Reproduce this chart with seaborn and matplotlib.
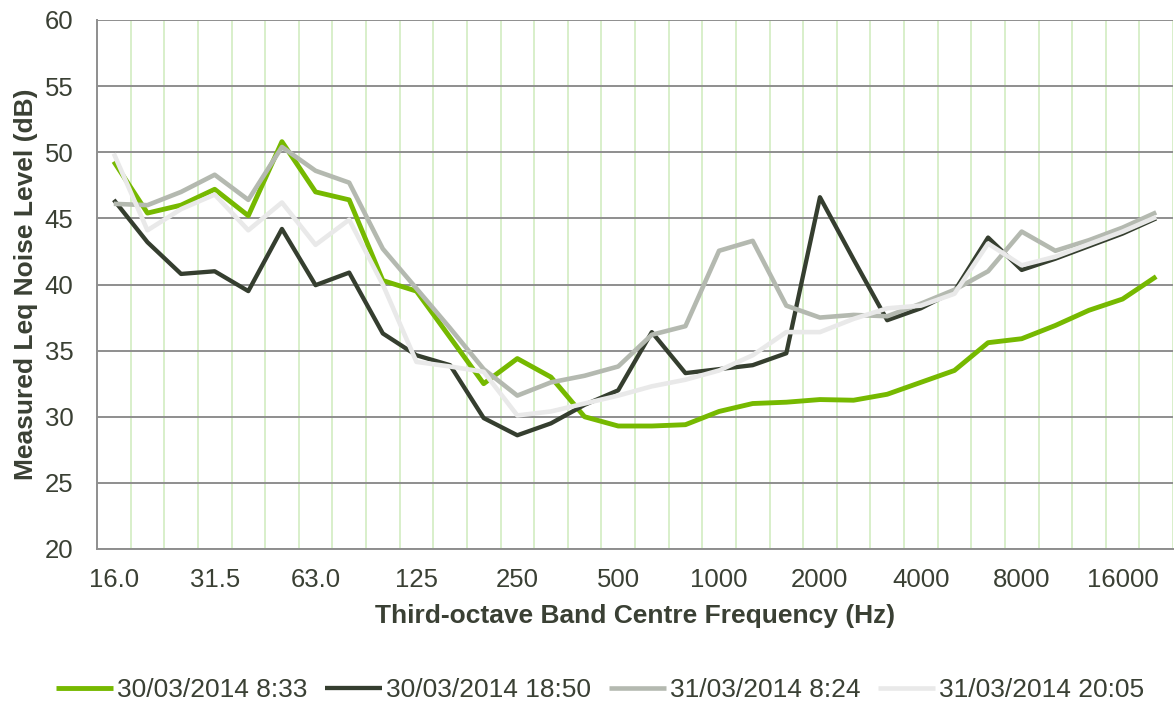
import matplotlib
matplotlib.use("Agg")
import matplotlib.pyplot as plt
import numpy as np
import pandas as pd
import seaborn as sns
from matplotlib.ticker import FixedLocator


# third-octave band centres (Hz), as labelled on the axis
BANDS = ["16.0", "20.0", "25.0", "31.5", "40.0", "50.0", "63.0", "80.0",
         "100", "125", "160", "200", "250", "315", "400", "500",
         "630", "800", "1000", "1250", "1600", "2000", "2500", "3150",
         "4000", "5000", "6300", "8000", "10000", "12500", "16000", "20000"]

SERIES = ["30/03/2014 8:33", "30/03/2014 18:50",
          "31/03/2014 8:24", "31/03/2014 20:05"]

# measured Leq per band (dB)
LEQ_30_0833 = [49.3, 45.4, 46.0, 47.2, 45.2, 50.8, 47.0, 46.4,
               40.3, 39.5, 36.0, 32.5, 34.4, 33.0, 30.0, 29.3,
               29.3, 29.4, 30.4, 31.0, 31.1, 31.3, 31.25, 31.7,
               32.6, 33.5, 35.6, 35.9, 36.9, 38.05, 38.9, 40.6]
LEQ_30_1850 = [46.4, 43.2, 40.8, 41.0, 39.5, 44.2, 39.95, 40.9,
               36.3, 34.65, 33.9, 29.9, 28.6, 29.5, 30.9, 32.0,
               36.4, 33.3, 33.6, 33.9, 34.8, 46.6, 41.9, 37.3,
               38.2, 39.5, 43.55, 41.1, 41.95, 42.9, 43.85, 45.0]
LEQ_31_0824 = [46.1, 46.0, 47.0, 48.3, 46.4, 50.4, 48.6, 47.7,
               42.7, 39.7, 36.7, 33.6, 31.6, 32.6, 33.1, 33.8,
               36.2, 36.85, 42.55, 43.3, 38.4, 37.5, 37.7, 37.6,
               38.55, 39.6, 41.0, 44.0, 42.55, 43.35, 44.3, 45.45]
LEQ_31_2005 = [49.9, 44.1, 45.7, 46.8, 44.1, 46.2, 43.0, 44.9,
               40.0, 34.15, 33.8, 33.4, 30.1, 30.4, 31.0, 31.6,
               32.3, 32.8, 33.5, 34.65, 36.4, 36.4, 37.4, 38.2,
               38.4, 39.3, 43.1, 41.45, 42.1, 43.05, 44.0, 45.1]

COLOURS = ["#76B900", "#353E2F", "#B4B9B0", "#E9E9E9"]
WIDTHS = [3.5, 3.1, 3.3, 3.3]
TEXT = "#3A4034"
GRID_GREY = "#8E8E8E"
GRID_GREEN = "#D6EEC6"


sns.set_theme(style="white")
plt.rcParams["font.family"] = ["Liberation Sans", "DejaVu Sans"]

rows = []
for name, vals in zip(SERIES, [LEQ_30_0833, LEQ_30_1850, LEQ_31_0824, LEQ_31_2005]):
    for i, v in enumerate(vals):
        rows.append({"band": i, "series": name, "leq": v})
df = pd.DataFrame(rows)

W, H = 1175, 704
fig = plt.figure(figsize=(W / 100, H / 100), dpi=100)
ax = fig.add_axes([97 / W, 1 - 549 / H, 1076 / W, 529 / H])

sns.lineplot(data=df, x="band", y="leq", hue="series", hue_order=SERIES,
             palette=dict(zip(SERIES, COLOURS)), errorbar=None, legend=False,
             solid_joinstyle="round", solid_capstyle="butt", ax=ax)
lines = ax.get_lines()[:4]
for ln, lw in zip(lines, WIDTHS):
    ln.set_linewidth(lw)

ax.set_xlim(-0.5, len(BANDS) - 0.5)
ax.set_ylim(20, 60)
ax.set_yticks(range(20, 61, 5))
ax.set_xticks(range(0, len(BANDS), 3))
ax.set_xticklabels(BANDS[::3])
ax.xaxis.set_minor_locator(FixedLocator(np.arange(0.5, len(BANDS), 1.0)))

ax.grid(False)
ax.grid(which="minor", axis="x", color=GRID_GREEN, linewidth=1.3)
ax.grid(which="major", axis="y", color=GRID_GREY, linewidth=1.4)
ax.set_axisbelow(True)

for side in ["top", "right"]:
    ax.spines[side].set_visible(False)
for side in ["left", "bottom"]:
    ax.spines[side].set_color(GRID_GREY)
    ax.spines[side].set_linewidth(1.4)

ax.tick_params(which="both", length=0)
ax.tick_params(axis="y", pad=17, labelsize=18.5, labelcolor=TEXT)
ax.tick_params(axis="x", pad=14, labelsize=18.5, labelcolor=TEXT)

ax.set_xlabel("Third-octave Band Centre Frequency (Hz)", fontsize=19,
              fontweight="bold", color=TEXT)
ax.set_ylabel("Measured Leq Noise Level (dB)", fontsize=19,
              fontweight="bold", color=TEXT)
ax.xaxis.set_label_coords(0.5, -0.104)
ax.yaxis.set_label_coords(-0.055, 0.5)

fig.legend(handles=lines, labels=SERIES, loc="center",
           bbox_to_anchor=(600 / W, 1 - 690 / H), ncol=4, frameon=False,
           fontsize=19, labelcolor=TEXT, handlelength=2.15, handletextpad=0.15,
           columnspacing=0.68)

fig.savefig("out.png", dpi=100)
